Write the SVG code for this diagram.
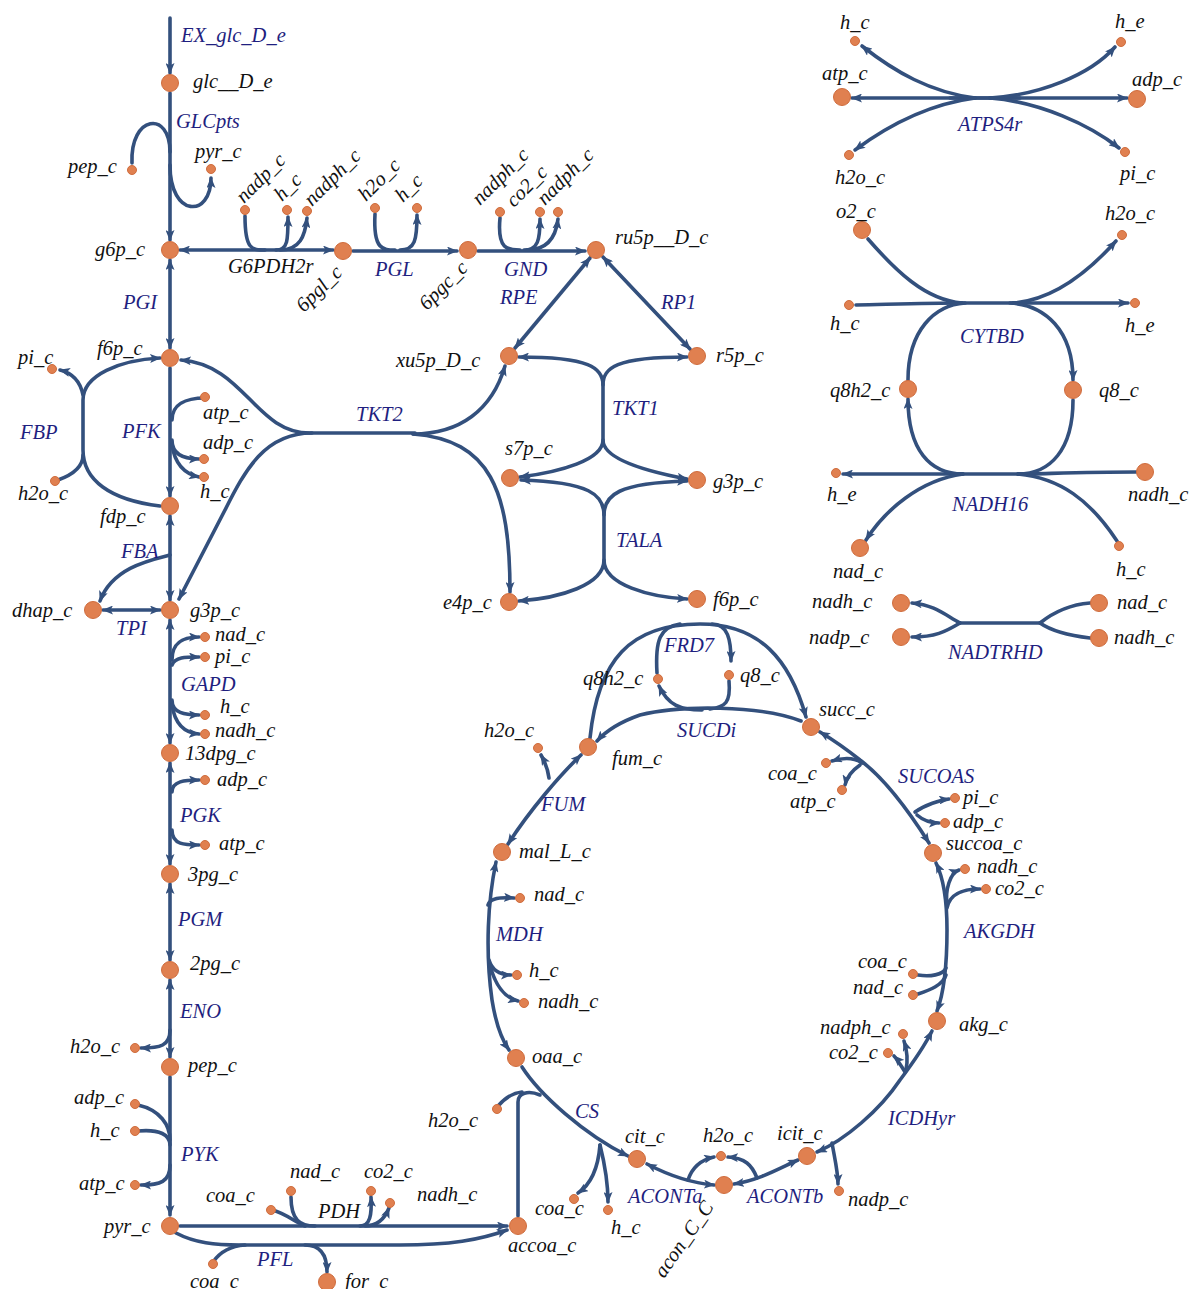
<svg xmlns="http://www.w3.org/2000/svg" width="1193" height="1289" viewBox="0 0 1193 1289">
<defs>
<marker id="ah" markerUnits="userSpaceOnUse" markerWidth="11" markerHeight="9" refX="10" refY="4.5" orient="auto-start-reverse">
<path d="M0,0 L11,4.5 L0,9 L2.5,4.5 z" fill="#33507d"/>
</marker>
<style>
.e{fill:none;stroke:#33507d;stroke-width:3.6;stroke-linecap:round}
.a{marker-end:url(#ah)}
.b{marker-start:url(#ah);marker-end:url(#ah)}
.s{marker-start:url(#ah)}
.n{fill:#e08050;stroke:#cf6c3d;stroke-width:1}
text{font-family:"Liberation Serif","Times New Roman",serif;font-style:italic;font-size:20.5px}
.m{fill:#111}
.r{fill:#1f1f80}
.k{fill:#111}
</style>
</defs>
<rect width="1193" height="1289" fill="#fff"/>

<!-- reaction edges -->
<g id="connectors">
<!-- uptake and glycolysis -->
<path class="e a" d="M170,18 V73"/>
<path class="e a" d="M170,93 V240"/>
<path class="e" d="M132,163 C130,115 170,110 170,152"/>
<path class="e a" d="M170,165 C170,218 211,218 211,178"/>
<path class="e b" d="M180,250 H333"/>
<path class="e" d="M245,216 C245,250 252,250 265,250"/>
<path class="e a" d="M276,250 C288,250 288,240 288,217"/>
<path class="e a" d="M280,250 C300,250 305,236 307,218"/>
<path class="e a" d="M353,251 H457"/>
<path class="e" d="M375,214 C373,250 383,250 395,250"/>
<path class="e a" d="M400,250 C415,250 417,240 417,215"/>
<path class="e a" d="M478,251 H585"/>
<path class="e" d="M500,218 C497,250 508,250 520,250"/>
<path class="e a" d="M524,250 C538,250 540,240 540,219"/>
<path class="e a" d="M527,250 C548,250 556,236 558,219"/>
<path class="e b" d="M590,258 L515,348"/>
<path class="e b" d="M603,257 L690,349"/>
<path class="e b" d="M519,357 C590,357 603,368 603,385 V440 C603,460 560,472 520,477"/>
<path class="e s" d="M687,357 C615,357 603,368 603,385"/>
<path class="e a" d="M603,440 C603,460 650,472 687,479"/>
<path class="e b" d="M521,480 C590,482 604,495 604,515 V560 C604,585 560,598 519,601"/>
<path class="e s" d="M687,481 C618,483 604,495 604,515"/>
<path class="e a" d="M604,560 C604,585 650,597 687,599"/>
<path class="e s" d="M181,360 C245,365 255,433 310,433 H415"/>
<path class="e a" d="M312,433 C265,433 245,470 225,510 L179,599"/>
<path class="e a" d="M413,434 C460,434 492,410 505,366"/>
<path class="e a" d="M413,434 C490,440 510,490 510,592"/>
<path class="e b" d="M170,260 V348"/>
<path class="e a" d="M170,368 V496"/>
<path class="e" d="M205,398 C185,398 172,405 172,420"/>
<path class="e a" d="M172,440 C172,455 185,459 199,459"/>
<path class="e a" d="M172,445 C175,465 185,474 199,477"/>
<path class="e a" d="M160,506 C110,500 83,480 83,450 V400 C83,375 120,360 160,358"/>
<path class="e a" d="M83,395 C80,380 72,373 60,370"/>
<path class="e" d="M58,480 C72,475 83,468 83,455"/>
<path class="e b" d="M170,516 V600"/>
<path class="e a" d="M170,555 C150,560 112,568 100,601"/>
<path class="e b" d="M103,610 H160"/>
<path class="e b" d="M170,620 V743"/>
<path class="e a" d="M172,660 C172,641 185,637 199,637"/>
<path class="e a" d="M172,665 C175,657 185,657 199,657"/>
<path class="e a" d="M172,700 C172,713 185,715 199,715"/>
<path class="e a" d="M172,705 C175,725 185,733 199,734"/>
<path class="e b" d="M170,763 V864"/>
<path class="e a" d="M172,792 C172,781 185,780 199,780"/>
<path class="e a" d="M172,830 C172,845 185,845 199,845"/>
<path class="e b" d="M170,884 V960"/>
<path class="e b" d="M170,980 V1057"/>
<path class="e a" d="M170,1030 C170,1046 160,1048 141,1048"/>
<path class="e a" d="M170,1077 V1215"/>
<path class="e" d="M138,1105 C160,1110 170,1125 170,1140"/>
<path class="e" d="M138,1131 C160,1129 170,1135 170,1145"/>
<path class="e a" d="M170,1165 C170,1182 160,1185 141,1185"/>
<path class="e a" d="M180,1226 H507"/>
<path class="e" d="M272,1210 C285,1213 295,1222 305,1226"/>
<path class="e" d="M291,1197 C291,1220 300,1226 315,1226"/>
<path class="e a" d="M360,1226 C370,1226 372,1215 371,1197"/>
<path class="e a" d="M365,1226 C378,1226 385,1218 389,1208"/>
<path class="e a" d="M176,1233 C195,1243 215,1245 240,1245 H400 C450,1245 480,1240 507,1230"/>
<path class="e" d="M213,1262 C220,1252 230,1246 245,1245"/>
<path class="e a" d="M305,1245 C320,1245 327,1255 327,1272"/>
<!-- citric acid cycle -->
<path class="e" d="M518,1216 V1102 C518,1093 528,1090 540,1095"/>
<path class="e" d="M498,1106 C505,1098 512,1093 522,1092"/>
<path class="e a" d="M522,1067 C540,1095 585,1135 628,1156"/>
<path class="e a" d="M600,1145 C598,1170 590,1185 578,1193"/>
<path class="e a" d="M600,1145 C605,1165 608,1185 608,1202"/>
<path class="e b" d="M647,1164 C670,1176 690,1183 714,1185"/>
<path class="e a" d="M688,1180 C692,1168 700,1160 714,1157"/>
<path class="e b" d="M734,1184 C760,1180 780,1168 798,1160"/>
<path class="e a" d="M757,1178 C752,1165 745,1158 728,1157"/>
<path class="e b" d="M817,1152 C845,1140 880,1110 900,1080 C915,1060 925,1045 932,1031"/>
<path class="e a" d="M832,1143 C835,1160 838,1172 838,1184"/>
<path class="e a" d="M906,1070 C908,1060 907,1050 904,1041"/>
<path class="e a" d="M905,1072 C900,1064 897,1059 894,1056"/>
<path class="e b" d="M937,1011 C945,990 947,960 947,930 C947,895 942,875 936,863"/>
<path class="e" d="M918,975 C930,977 943,975 946,968"/>
<path class="e" d="M918,994 C930,990 943,985 946,975"/>
<path class="e a" d="M947,905 C945,890 950,873 959,870"/>
<path class="e a" d="M947,908 C950,892 965,889 980,889"/>
<path class="e b" d="M929,843 C905,805 880,775 860,760 C845,748 830,738 820,732"/>
<path class="e a" d="M915,812 C925,805 940,800 949,799"/>
<path class="e a" d="M917,815 C925,822 932,823 939,823"/>
<path class="e a" d="M862,763 C855,758 845,757 832,761"/>
<path class="e a" d="M860,765 C850,772 846,780 845,785"/>
<path class="e a" d="M801,721 C760,705 680,705 640,715 C620,722 605,732 597,741"/>
<path class="e" d="M729,681 C731,703 725,707 710,709"/>
<path class="e a" d="M702,710 C680,710 668,705 659,686"/>
<path class="e a" d="M590,738 C598,660 630,624 700,624 C760,624 790,660 806,717"/>
<path class="e" d="M657,673 C655,640 660,627 680,624"/>
<path class="e a" d="M712,624 C728,624 731,640 731,661"/>
<path class="e b" d="M581,755 C560,775 530,810 508,844"/>
<path class="e a" d="M549,778 C548,770 545,762 541,755"/>
<path class="e b" d="M496,862 C488,900 485,950 492,1000 C496,1025 502,1040 509,1050"/>
<path class="e a" d="M488,905 C490,898 500,897 514,898"/>
<path class="e a" d="M489,960 C492,970 500,975 511,975"/>
<path class="e a" d="M490,965 C495,985 505,998 518,1001"/>
<!-- ATP synthase and respiratory chain -->
<path class="e a" d="M1020,98 H852"/>
<path class="e a" d="M950,98 H1127"/>
<path class="e a" d="M975,98 C930,92 895,72 862,46"/>
<path class="e a" d="M975,98 C930,104 890,124 855,150"/>
<path class="e a" d="M990,98 C1040,95 1090,75 1115,47"/>
<path class="e a" d="M990,98 C1040,102 1090,125 1119,148"/>
<path class="e" d="M960,303 H1015"/>
<path class="e" d="M868,239 C895,270 925,300 962,303"/>
<path class="e a" d="M1013,303 C1055,300 1090,270 1116,241"/>
<path class="e" d="M856,305 C900,304 930,303 962,303"/>
<path class="e a" d="M1013,303 H1128"/>
<path class="e" d="M908,380 C908,330 935,305 965,303"/>
<path class="e a" d="M1010,303 C1045,305 1073,330 1073,380"/>
<path class="e" d="M960,474 H1020"/>
<path class="e a" d="M962,474 H843"/>
<path class="e" d="M1136,472 C1080,472 1040,474 1018,474"/>
<path class="e" d="M1073,400 C1073,450 1050,474 1018,474"/>
<path class="e a" d="M963,474 C930,474 908,450 908,399"/>
<path class="e a" d="M963,474 C920,480 885,510 866,540"/>
<path class="e" d="M1117,541 C1090,500 1060,478 1018,474"/>
<path class="e" d="M960,623 H1040"/>
<path class="e a" d="M960,623 C945,615 935,605 912,603"/>
<path class="e a" d="M960,623 C945,632 935,637 912,637"/>
<path class="e" d="M1090,603 C1065,605 1050,615 1040,623"/>
<path class="e" d="M1090,638 C1065,635 1050,630 1040,623"/>
</g>

<!-- reaction names -->
<g id="reactions">
<text class="r" x="181" y="42">EX_glc_D_e</text>
<text class="r" x="176" y="128">GLCpts</text>
<text class="k" x="228" y="273">G6PDH2r</text>
<text class="r" x="375" y="276">PGL</text>
<text class="r" x="504" y="276">GND</text>
<text class="r" x="500" y="304">RPE</text>
<text class="r" x="661" y="309">RP1</text>
<text class="r" x="612" y="415">TKT1</text>
<text class="r" x="356" y="421">TKT2</text>
<text class="r" x="616" y="547">TALA</text>
<text class="r" x="123" y="309">PGI</text>
<text class="r" x="20" y="439">FBP</text>
<text class="r" x="122" y="438">PFK</text>
<text class="r" x="121" y="558">FBA</text>
<text class="r" x="116" y="635">TPI</text>
<text class="r" x="181" y="691">GAPD</text>
<text class="r" x="180" y="822">PGK</text>
<text class="r" x="178" y="926">PGM</text>
<text class="r" x="180" y="1018">ENO</text>
<text class="r" x="181" y="1161">PYK</text>
<text class="k" x="318" y="1218">PDH</text>
<text class="r" x="257" y="1266">PFL</text>
<text class="r" x="575" y="1118">CS</text>
<text class="r" x="628" y="1203">ACONTa</text>
<text class="r" x="747" y="1203">ACONTb</text>
<text class="r" x="888" y="1125">ICDHyr</text>
<text class="r" x="964" y="938">AKGDH</text>
<text class="r" x="898" y="783">SUCOAS</text>
<text class="r" x="677" y="737">SUCDi</text>
<text class="r" x="664" y="652">FRD7</text>
<text class="r" x="541" y="811">FUM</text>
<text class="r" x="496" y="941">MDH</text>
<text class="r" x="958" y="131">ATPS4r</text>
<text class="r" x="960" y="343">CYTBD</text>
<text class="r" x="952" y="511">NADH16</text>
<text class="r" x="948" y="659">NADTRHD</text>
</g>

<!-- metabolites -->
<g id="n-glc__D_e"><circle class="n" cx="170" cy="83" r="8.5"/><text class="m" x="193" y="88">glc__D_e</text></g>
<g id="n-pep_c-1"><circle class="n" cx="132" cy="170" r="4.5"/><text class="m" x="68" y="173">pep_c</text></g>
<g id="n-pyr_c-1"><circle class="n" cx="211" cy="169" r="4.5"/><text class="m" x="195" y="158">pyr_c</text></g>
<g id="n-g6p_c"><circle class="n" cx="170" cy="250" r="8.5"/><text class="m" x="95" y="256">g6p_c</text></g>
<g id="n-nadp_c-1"><circle class="n" cx="245" cy="210" r="4.5"/><text class="m" x="244" y="204" transform="rotate(-45 244 204)">nadp_c</text></g>
<g id="n-h_c-1"><circle class="n" cx="287" cy="210" r="4.5"/><text class="m" x="282" y="202" transform="rotate(-45 282 202)">h_c</text></g>
<g id="n-nadph_c-1"><circle class="n" cx="307" cy="211" r="4.5"/><text class="m" x="312" y="207" transform="rotate(-45 312 207)">nadph_c</text></g>
<g id="n-6pgl_c"><circle class="n" cx="343" cy="251" r="8.5"/><text class="m" x="304" y="313" transform="rotate(-45 304 313)">6pgl_c</text></g>
<g id="n-h2o_c-1"><circle class="n" cx="375" cy="208" r="4.5"/><text class="m" x="366" y="202" transform="rotate(-45 366 202)">h2o_c</text></g>
<g id="n-h_c-2"><circle class="n" cx="417" cy="208" r="4.5"/><text class="m" x="403" y="203" transform="rotate(-45 403 203)">h_c</text></g>
<g id="n-6pgc_c"><circle class="n" cx="468" cy="250" r="8.5"/><text class="m" x="427" y="311" transform="rotate(-45 427 311)">6pgc_c</text></g>
<g id="n-nadph_c-2"><circle class="n" cx="500" cy="212" r="4.5"/><text class="m" x="480" y="206" transform="rotate(-45 480 206)">nadph_c</text></g>
<g id="n-co2_c-1"><circle class="n" cx="540" cy="212" r="4.5"/><text class="m" x="514" y="208" transform="rotate(-45 514 208)">co2_c</text></g>
<g id="n-nadph_c-3"><circle class="n" cx="558" cy="212" r="4.5"/><text class="m" x="545" y="206" transform="rotate(-45 545 206)">nadph_c</text></g>
<g id="n-ru5p__D_c"><circle class="n" cx="596" cy="250" r="8.5"/><text class="m" x="615" y="244">ru5p__D_c</text></g>
<g id="n-xu5p_D_c"><circle class="n" cx="509" cy="356" r="8.5"/><text class="m" x="396" y="367">xu5p_D_c</text></g>
<g id="n-r5p_c"><circle class="n" cx="697" cy="356" r="8.5"/><text class="m" x="716" y="362">r5p_c</text></g>
<g id="n-s7p_c"><circle class="n" cx="510" cy="478" r="8.5"/><text class="m" x="505" y="455">s7p_c</text></g>
<g id="n-g3p_c-2"><circle class="n" cx="697" cy="480" r="8.5"/><text class="m" x="713" y="488">g3p_c</text></g>
<g id="n-e4p_c"><circle class="n" cx="509" cy="602" r="8.5"/><text class="m" x="443" y="609">e4p_c</text></g>
<g id="n-f6p_c-2"><circle class="n" cx="697" cy="599" r="8.5"/><text class="m" x="713" y="606">f6p_c</text></g>
<g id="n-f6p_c"><circle class="n" cx="170" cy="358" r="8.5"/><text class="m" x="97" y="355">f6p_c</text></g>
<g id="n-pi_c-1"><circle class="n" cx="52" cy="369" r="4.5"/><text class="m" x="18" y="364">pi_c</text></g>
<g id="n-h2o_c-2"><circle class="n" cx="55" cy="481" r="4.5"/><text class="m" x="18" y="500">h2o_c</text></g>
<g id="n-atp_c-1"><circle class="n" cx="205" cy="397" r="4.5"/><text class="m" x="203" y="419">atp_c</text></g>
<g id="n-adp_c-1"><circle class="n" cx="204" cy="459" r="4.5"/><text class="m" x="203" y="449">adp_c</text></g>
<g id="n-h_c-3"><circle class="n" cx="204" cy="477" r="4.5"/><text class="m" x="200" y="498">h_c</text></g>
<g id="n-fdp_c"><circle class="n" cx="170" cy="506" r="8.5"/><text class="m" x="100" y="523">fdp_c</text></g>
<g id="n-dhap_c"><circle class="n" cx="93" cy="610" r="8.5"/><text class="m" x="12" y="617">dhap_c</text></g>
<g id="n-g3p_c"><circle class="n" cx="170" cy="610" r="8.5"/><text class="m" x="190" y="617">g3p_c</text></g>
<g id="n-nad_c-1"><circle class="n" cx="205" cy="637" r="4.5"/><text class="m" x="215" y="641">nad_c</text></g>
<g id="n-pi_c-2"><circle class="n" cx="205" cy="657" r="4.5"/><text class="m" x="215" y="663">pi_c</text></g>
<g id="n-h_c-4"><circle class="n" cx="205" cy="715" r="4.5"/><text class="m" x="220" y="713">h_c</text></g>
<g id="n-nadh_c-1"><circle class="n" cx="205" cy="734" r="4.5"/><text class="m" x="215" y="737">nadh_c</text></g>
<g id="n-13dpg_c"><circle class="n" cx="170" cy="753" r="8.5"/><text class="m" x="185" y="760">13dpg_c</text></g>
<g id="n-adp_c-2"><circle class="n" cx="205" cy="780" r="4.5"/><text class="m" x="217" y="786">adp_c</text></g>
<g id="n-atp_c-2"><circle class="n" cx="205" cy="845" r="4.5"/><text class="m" x="219" y="850">atp_c</text></g>
<g id="n-3pg_c"><circle class="n" cx="170" cy="874" r="8.5"/><text class="m" x="188" y="881">3pg_c</text></g>
<g id="n-2pg_c"><circle class="n" cx="170" cy="970" r="8.5"/><text class="m" x="190" y="970">2pg_c</text></g>
<g id="n-h2o_c-3"><circle class="n" cx="135" cy="1048" r="4.5"/><text class="m" x="70" y="1053">h2o_c</text></g>
<g id="n-pep_c"><circle class="n" cx="170" cy="1067" r="8.5"/><text class="m" x="188" y="1072">pep_c</text></g>
<g id="n-adp_c-3"><circle class="n" cx="135" cy="1104" r="4.5"/><text class="m" x="74" y="1104">adp_c</text></g>
<g id="n-h_c-5"><circle class="n" cx="135" cy="1131" r="4.5"/><text class="m" x="90" y="1137">h_c</text></g>
<g id="n-atp_c-3"><circle class="n" cx="135" cy="1185" r="4.5"/><text class="m" x="79" y="1190">atp_c</text></g>
<g id="n-pyr_c"><circle class="n" cx="170" cy="1226" r="8.5"/><text class="m" x="104" y="1233">pyr_c</text></g>
<g id="n-coa_c-1"><circle class="n" cx="271" cy="1210" r="4.5"/><text class="m" x="206" y="1202">coa_c</text></g>
<g id="n-nad_c-2"><circle class="n" cx="291" cy="1191" r="4.5"/><text class="m" x="290" y="1178">nad_c</text></g>
<g id="n-co2_c-2"><circle class="n" cx="371" cy="1191" r="4.5"/><text class="m" x="364" y="1178">co2_c</text></g>
<g id="n-nadh_c-2"><circle class="n" cx="390" cy="1203" r="4.5"/><text class="m" x="417" y="1201">nadh_c</text></g>
<g id="n-coa_c-2"><circle class="n" cx="213" cy="1264" r="4.5"/><text class="m" x="190" y="1288">coa_c</text></g>
<g id="n-for_c"><circle class="n" cx="327" cy="1282" r="8.5"/><text class="m" x="345" y="1288">for_c</text></g>
<g id="n-accoa_c"><circle class="n" cx="518" cy="1226" r="8.5"/><text class="m" x="508" y="1252">accoa_c</text></g>
<g id="n-h2o_c-4"><circle class="n" cx="497" cy="1109" r="4.5"/><text class="m" x="428" y="1127">h2o_c</text></g>
<g id="n-oaa_c"><circle class="n" cx="516" cy="1058" r="8.5"/><text class="m" x="532" y="1063">oaa_c</text></g>
<g id="n-coa_c-3"><circle class="n" cx="574" cy="1199" r="4.5"/><text class="m" x="535" y="1215">coa_c</text></g>
<g id="n-h_c-6"><circle class="n" cx="608" cy="1210" r="4.5"/><text class="m" x="611" y="1234">h_c</text></g>
<g id="n-cit_c"><circle class="n" cx="637" cy="1159" r="8.5"/><text class="m" x="625" y="1143">cit_c</text></g>
<g id="n-h2o_c-5"><circle class="n" cx="721" cy="1156" r="4.5"/><text class="m" x="703" y="1142">h2o_c</text></g>
<g id="n-acon_C_c"><circle class="n" cx="724" cy="1185" r="8.5"/><text class="m" x="664" y="1279" transform="rotate(-55 664 1279)">acon_C_C</text></g>
<g id="n-icit_c"><circle class="n" cx="807" cy="1156" r="8.5"/><text class="m" x="777" y="1140">icit_c</text></g>
<g id="n-nadp_c-2"><circle class="n" cx="839" cy="1191" r="4.5"/><text class="m" x="848" y="1206">nadp_c</text></g>
<g id="n-nadph_c-4"><circle class="n" cx="903" cy="1034" r="4.5"/><text class="m" x="820" y="1034">nadph_c</text></g>
<g id="n-co2_c-3"><circle class="n" cx="888" cy="1053" r="4.5"/><text class="m" x="829" y="1059">co2_c</text></g>
<g id="n-akg_c"><circle class="n" cx="937" cy="1021" r="8.5"/><text class="m" x="959" y="1031">akg_c</text></g>
<g id="n-coa_c-4"><circle class="n" cx="913" cy="974" r="4.5"/><text class="m" x="858" y="968">coa_c</text></g>
<g id="n-nad_c-3"><circle class="n" cx="913" cy="995" r="4.5"/><text class="m" x="853" y="994">nad_c</text></g>
<g id="n-nadh_c-3"><circle class="n" cx="965" cy="869" r="4.5"/><text class="m" x="977" y="873">nadh_c</text></g>
<g id="n-co2_c-4"><circle class="n" cx="986" cy="889" r="4.5"/><text class="m" x="995" y="895">co2_c</text></g>
<g id="n-succoa_c"><circle class="n" cx="933" cy="853" r="8.5"/><text class="m" x="946" y="850">succoa_c</text></g>
<g id="n-pi_c-3"><circle class="n" cx="955" cy="798" r="4.5"/><text class="m" x="963" y="804">pi_c</text></g>
<g id="n-adp_c-4"><circle class="n" cx="945" cy="823" r="4.5"/><text class="m" x="953" y="828">adp_c</text></g>
<g id="n-coa_c-5"><circle class="n" cx="826" cy="763" r="4.5"/><text class="m" x="768" y="780">coa_c</text></g>
<g id="n-atp_c-4"><circle class="n" cx="842" cy="790" r="4.5"/><text class="m" x="790" y="808">atp_c</text></g>
<g id="n-succ_c"><circle class="n" cx="811" cy="727" r="8.5"/><text class="m" x="819" y="716">succ_c</text></g>
<g id="n-q8h2_c-1"><circle class="n" cx="658" cy="679" r="4.5"/><text class="m" x="583" y="685">q8h2_c</text></g>
<g id="n-q8_c-1"><circle class="n" cx="729" cy="675" r="4.5"/><text class="m" x="740" y="682">q8_c</text></g>
<g id="n-fum_c"><circle class="n" cx="588" cy="747" r="8.5"/><text class="m" x="612" y="765">fum_c</text></g>
<g id="n-h2o_c-6"><circle class="n" cx="538" cy="748" r="4.5"/><text class="m" x="484" y="737">h2o_c</text></g>
<g id="n-mal_L_c"><circle class="n" cx="502" cy="852" r="8.5"/><text class="m" x="519" y="858">mal_L_c</text></g>
<g id="n-nad_c-4"><circle class="n" cx="520" cy="898" r="4.5"/><text class="m" x="534" y="901">nad_c</text></g>
<g id="n-h_c-7"><circle class="n" cx="517" cy="975" r="4.5"/><text class="m" x="529" y="977">h_c</text></g>
<g id="n-nadh_c-4"><circle class="n" cx="524" cy="1003" r="4.5"/><text class="m" x="538" y="1008">nadh_c</text></g>
<g id="n-h_c-8"><circle class="n" cx="855" cy="41" r="4.5"/><text class="m" x="840" y="29">h_c</text></g>
<g id="n-atp_c-5"><circle class="n" cx="842" cy="97" r="8.5"/><text class="m" x="822" y="80">atp_c</text></g>
<g id="n-h2o_c-7"><circle class="n" cx="849" cy="155" r="4.5"/><text class="m" x="835" y="184">h2o_c</text></g>
<g id="n-h_e-1"><circle class="n" cx="1121" cy="42" r="4.5"/><text class="m" x="1115" y="28">h_e</text></g>
<g id="n-adp_c-5"><circle class="n" cx="1137" cy="99" r="8.5"/><text class="m" x="1132" y="86">adp_c</text></g>
<g id="n-pi_c-4"><circle class="n" cx="1125" cy="152" r="4.5"/><text class="m" x="1120" y="180">pi_c</text></g>
<g id="n-o2_c"><circle class="n" cx="862" cy="230" r="8.5"/><text class="m" x="836" y="218">o2_c</text></g>
<g id="n-h2o_c-8"><circle class="n" cx="1122" cy="235" r="4.5"/><text class="m" x="1105" y="220">h2o_c</text></g>
<g id="n-h_c-9"><circle class="n" cx="849" cy="305" r="4.5"/><text class="m" x="830" y="330">h_c</text></g>
<g id="n-h_e-2"><circle class="n" cx="1135" cy="303" r="4.5"/><text class="m" x="1125" y="332">h_e</text></g>
<g id="n-q8h2_c"><circle class="n" cx="908" cy="389" r="8.5"/><text class="m" x="830" y="397">q8h2_c</text></g>
<g id="n-q8_c"><circle class="n" cx="1073" cy="390" r="8.5"/><text class="m" x="1099" y="397">q8_c</text></g>
<g id="n-h_e-3"><circle class="n" cx="836" cy="473" r="4.5"/><text class="m" x="827" y="501">h_e</text></g>
<g id="n-nadh_c-5"><circle class="n" cx="1145" cy="472" r="8.5"/><text class="m" x="1128" y="501">nadh_c</text></g>
<g id="n-nad_c-5"><circle class="n" cx="860" cy="548" r="8.5"/><text class="m" x="833" y="578">nad_c</text></g>
<g id="n-h_c-10"><circle class="n" cx="1119" cy="546" r="4.5"/><text class="m" x="1116" y="576">h_c</text></g>
<g id="n-nadh_c-6"><circle class="n" cx="901" cy="603" r="8.5"/><text class="m" x="812" y="608">nadh_c</text></g>
<g id="n-nadp_c-3"><circle class="n" cx="901" cy="637" r="8.5"/><text class="m" x="809" y="644">nadp_c</text></g>
<g id="n-nad_c-6"><circle class="n" cx="1099" cy="603" r="8.5"/><text class="m" x="1117" y="609">nad_c</text></g>
<g id="n-nadh_c-7"><circle class="n" cx="1099" cy="638" r="8.5"/><text class="m" x="1114" y="644">nadh_c</text></g>
</svg>
